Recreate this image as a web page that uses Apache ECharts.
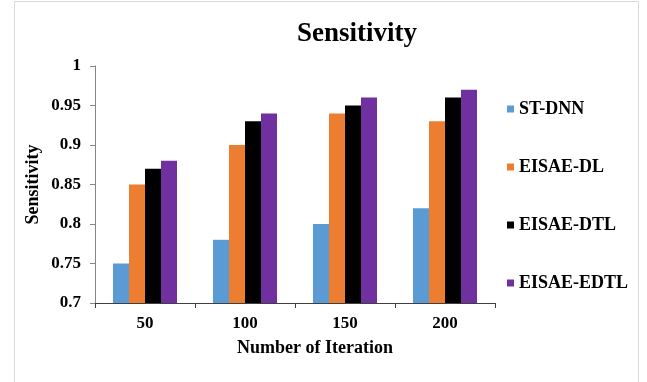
<!DOCTYPE html>
<html>
<head>
<meta charset="utf-8">
<script src="https://cdn.jsdelivr.net/npm/echarts@6/dist/echarts.min.js"></script>
<style>
html,body{margin:0;padding:0;background:#fff;}
#chart{width:647px;height:382px;}
</style>
</head>
<body>
<div id="chart"></div>
<script>
const categories = ['50', '100', '150', '200'];
const seriesNames = ['ST-DNN', 'EISAE-DL', 'EISAE-DTL', 'EISAE-EDTL'];
const stDnn = [0.75, 0.78, 0.80, 0.82];
const eisaeDl = [0.85, 0.90, 0.94, 0.93];
const eisaeDtl = [0.87, 0.93, 0.95, 0.96];
const eisaeEdtl = [0.88, 0.94, 0.96, 0.97];
const colors = ['#5B9BD5', '#ED7D31', '#000000', '#7030A0'];

const FONT = '"Liberation Serif", "Times New Roman", serif';
const values = [stDnn, eisaeDl, eisaeDtl, eisaeEdtl];

const chart = echarts.init(document.getElementById('chart'), null, {renderer: 'canvas'});
chart.setOption({
  animation: false,
  backgroundColor: '#ffffff',
  graphic: [{
    type: 'rect', silent: true, z: -10,
    shape: {x: 14.5, y: 1.5, width: 624, height: 400},
    style: {fill: '#ffffff', stroke: '#d9d9d9', lineWidth: 1}
  }],
  title: {
    text: 'Sensitivity',
    left: 352, textAlign: 'center', top: 16,
    textStyle: {fontFamily: FONT, fontWeight: 'bold', fontSize: 27, color: '#000'}
  },
  legend: {
    orient: 'vertical',
    left: 502, top: 95,
    itemWidth: 7, itemHeight: 7, itemGap: 40,
    icon: 'rect',
    data: seriesNames,
    textStyle: {fontFamily: FONT, fontWeight: 'bold', fontSize: 18, color: '#000'}
  },
  grid: {left: 95, right: 152, top: 66, bottom: 79, containLabel: false},
  xAxis: {
    type: 'category',
    data: categories,
    name: 'Number of Iteration',
    nameLocation: 'middle',
    nameGap: 36,
    nameMoveOverlap: false,
    nameTextStyle: {fontFamily: FONT, fontWeight: 'bold', fontSize: 18, color: '#000', padding: [0,0,0,40]},
    axisLine: {lineStyle: {color: '#404040', width: 1}},
    axisTick: {show: true, length: 5, lineStyle: {color: '#404040'}},
    axisLabel: {fontFamily: FONT, fontWeight: 'bold', fontSize: 17, color: '#000', margin: 12}
  },
  yAxis: {
    type: 'value',
    min: 0.7, max: 1, interval: 0.05,
    name: 'Sensitivity',
    nameLocation: 'middle',
    nameGap: 53,
    nameMoveOverlap: false,
    nameTextStyle: {fontFamily: FONT, fontWeight: 'bold', fontSize: 18, color: '#000'},
    axisLine: {show: true, lineStyle: {color: '#868686', width: 1}},
    axisTick: {show: true, length: 5, lineStyle: {color: '#868686'}},
    splitLine: {show: false},
    axisLabel: {fontFamily: FONT, fontWeight: 'bold', fontSize: 17, color: '#000', margin: 14,
      formatter: v => String(Math.round(v * 100) / 100)}
  },
  series: seriesNames.map((n, i) => ({
    name: n,
    type: 'bar',
    data: values[i],
    barGap: '0%',
    barCategoryGap: '36%',
    itemStyle: {color: colors[i]}
  }))
});
</script>
</body>
</html>
